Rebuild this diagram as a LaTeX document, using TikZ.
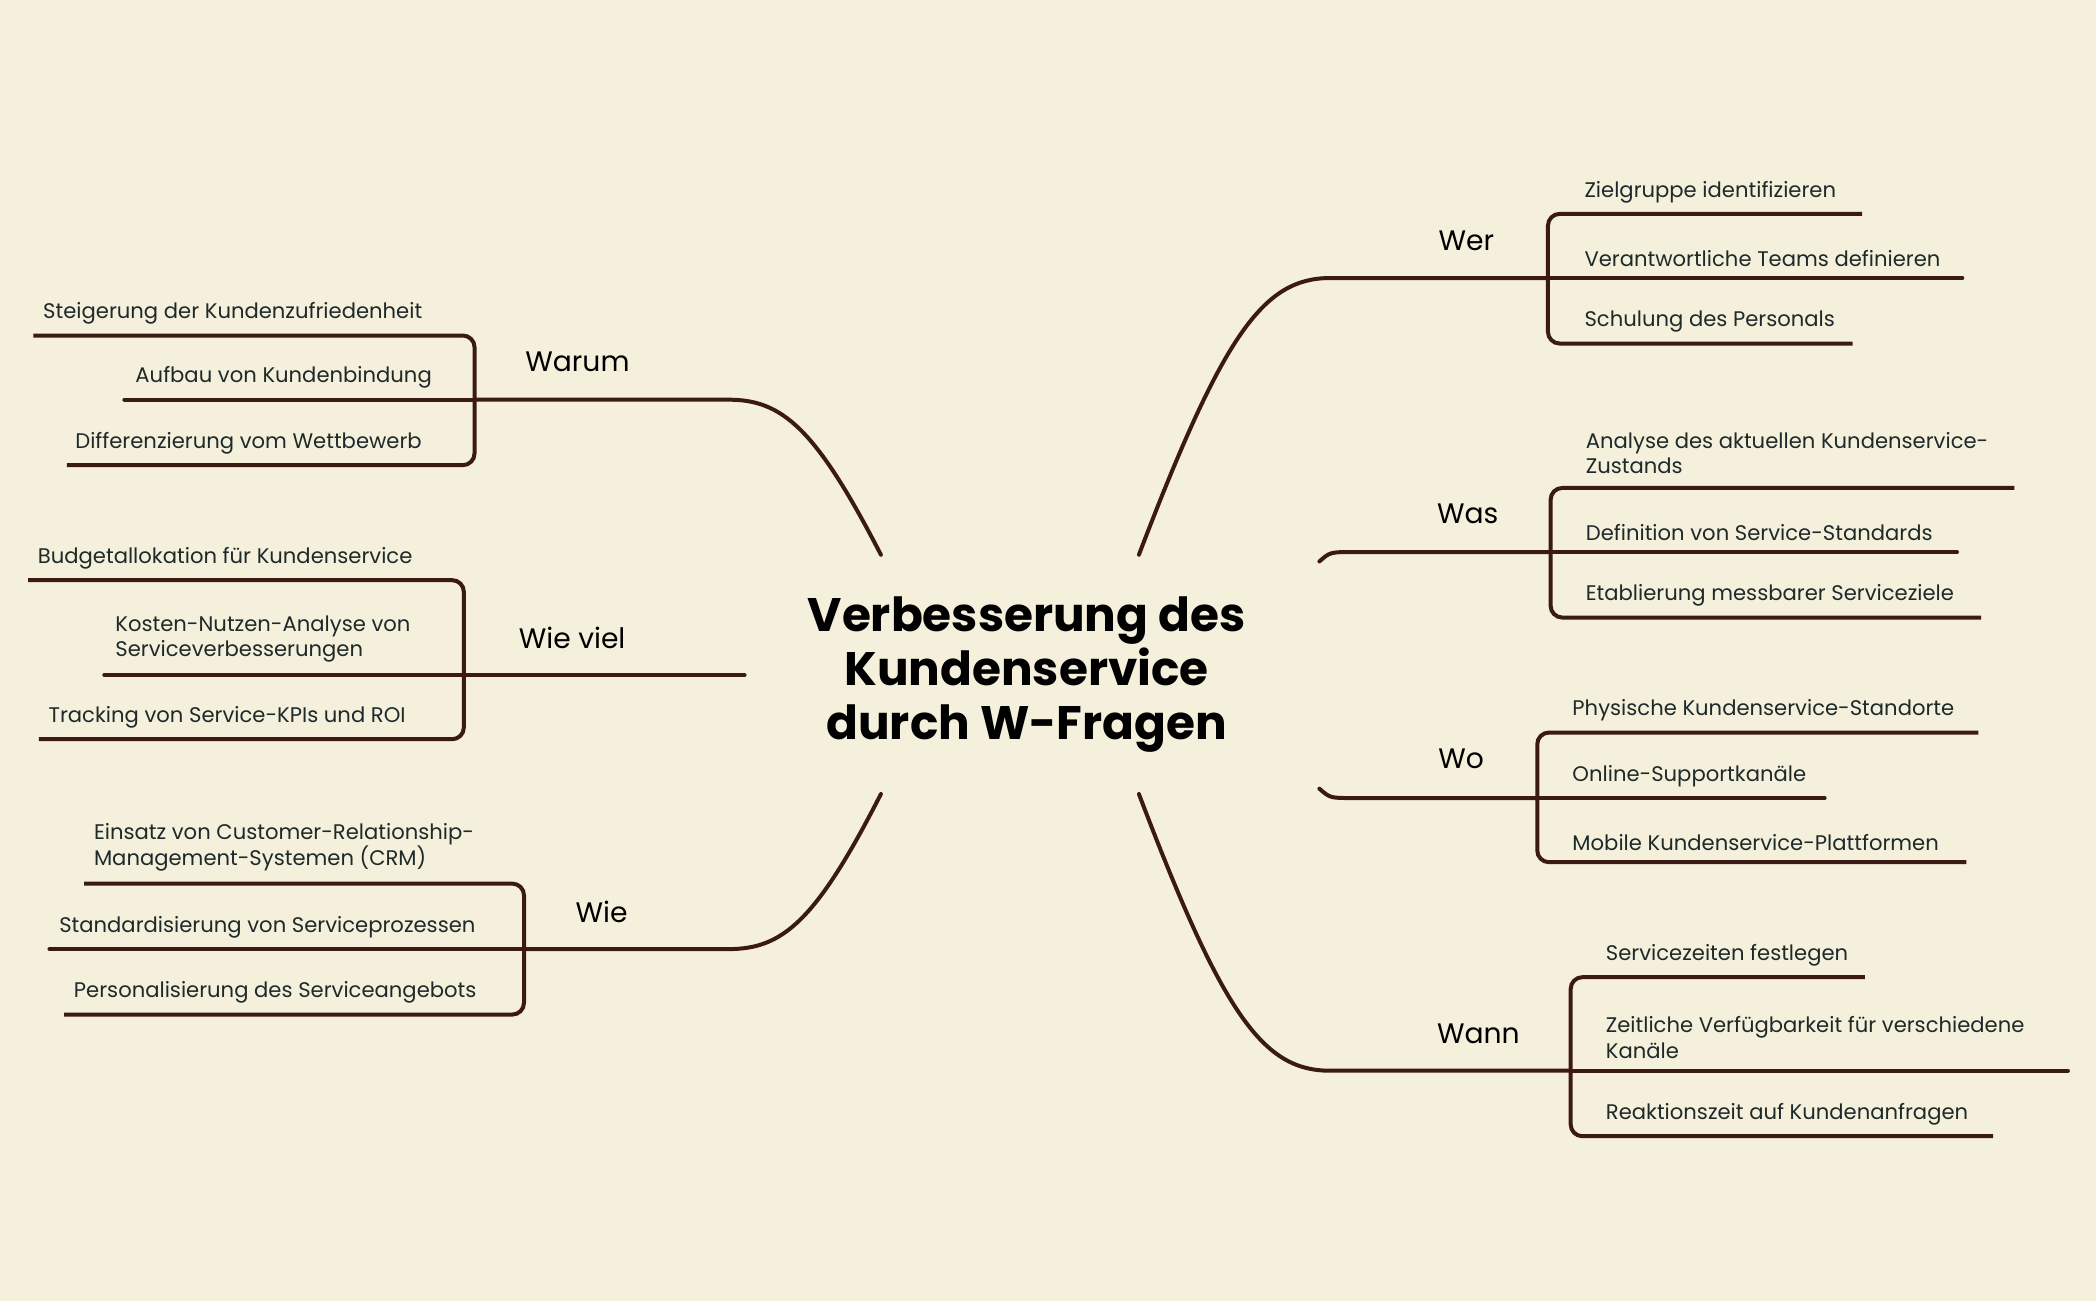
\documentclass[tikz,border=0pt]{standalone}
\usepackage{fontspec}
\setmainfont{Poppins}
\definecolor{bg}{HTML}{F5F0DC}
\definecolor{ln}{HTML}{3B1A14}
\definecolor{tx}{HTML}{1E2A2A}
\begin{document}
\begin{tikzpicture}[x=0.02cm,y=-0.02cm,
  conn/.style={draw=ln,line width=1.7pt,line cap=round},
  br/.style={draw=ln,line width=1.7pt,rounded corners=5pt},
  item/.style={anchor=south west,inner sep=0pt,text=tx,font=\fontsize{9}{11}\selectfont,align=left},
  head/.style={text=black,font=\fontsize{12}{14}\selectfont,inner sep=0pt},
  title/.style={text=black,font=\fontsize{20}{23}\selectfont\bfseries,align=center}]
\fill[bg] (0,0) rectangle (1568,973);
\useasboundingbox (0,0) rectangle (1568,973);
\node[title] (c) at (768,505) {Verbesserung des\\Kundenservice\\durch W-Fragen};
% ---------- Wer
\coordinate (wer0) at (852,415); \coordinate (wer1) at (995,208); \coordinate (werb) at (1158,208);
\draw[conn] (wer0) .. controls (915,250) and (945,208) .. (wer1) -- (werb);
\draw[br] (1393,160) -- (1158,160) -- (1158,257) -- (1386,257);
\draw[conn] (werb) -- (1468,208);
\node[head] (wer) at (1097,180) {Wer};
\node[item] (wer-a) at (1185,152) {Zielgruppe identifizieren};
\node[item] (wer-b) at (1185,200) {Verantwortliche Teams definieren};
\node[item] (wer-c) at (1185,249) {Schulung des Personals};
% ---------- Was
\coordinate (was0) at (987,420); \coordinate (wasb) at (1160,413);
\draw[conn] (was0) .. controls (995,413) .. (1012,413) -- (wasb);
\draw[br] (1507,365) -- (1160,365) -- (1160,462) -- (1482,462);
\draw[conn] (wasb) -- (1464,413);
\node[head] (was) at (1098,384) {Was};
\node[item] (was-a) at (1186,355) {Analyse des aktuellen Kundenservice-\\Zustands};
\node[item] (was-b) at (1186,405) {Definition von Service-Standards};
\node[item] (was-c) at (1186,454) {Etablierung messbarer Serviceziele};
% ---------- Wo
\coordinate (wo0) at (987,590); \coordinate (wob) at (1150,597);
\draw[conn] (wo0) .. controls (995,597) .. (1012,597) -- (wob);
\draw[br] (1480,548) -- (1150,548) -- (1150,645) -- (1471,645);
\draw[conn] (wob) -- (1365,597);
\node[head] (wo) at (1093,568) {Wo};
\node[item] (wo-a) at (1176,540) {Physische Kundenservice-Standorte};
\node[item] (wo-b) at (1176,589) {Online-Supportkanäle};
\node[item] (wo-c) at (1176,637) {Mobile Kundenservice-Plattformen};
% ---------- Wann
\coordinate (wa0) at (852,594); \coordinate (wa1) at (995,801); \coordinate (wab) at (1175,801);
\draw[conn] (wa0) .. controls (915,760) and (945,801) .. (wa1) -- (wab);
\draw[br] (1395,731) -- (1175,731) -- (1175,850) -- (1491,850);
\draw[conn] (wab) -- (1547,801);
\node[head] (wann) at (1106,773) {Wann};
\node[item] (wa-a) at (1201,723) {Servicezeiten festlegen};
\node[item] (wa-b) at (1201,792) {Zeitliche Verfügbarkeit für verschiedene\\Kanäle};
\node[item] (wa-c) at (1201,842) {Reaktionszeit auf Kundenanfragen};
% ---------- Warum
\coordinate (wr0) at (659,415); \coordinate (wr1) at (545,299); \coordinate (wrb) at (355,299);
\draw[conn] (wr0) .. controls (610,320) and (585,299) .. (wr1) -- (wrb);
\draw[br] (25,251) -- (355,251) -- (355,348) -- (50,348);
\draw[conn] (wrb) -- (93,299);
\node[head] (warum) at (432,271) {Warum};
\node[item] (wr-a) at (32,243) {Steigerung der Kundenzufriedenheit};
\node[item] (wr-b) at (101,291) {Aufbau von Kundenbindung};
\node[item] (wr-c) at (56,340) {Differenzierung vom Wettbewerb};
% ---------- Wie viel
\coordinate (wv0) at (557,505); \coordinate (wvb) at (347,505);
\draw[conn] (wv0) -- (wvb);
\draw[br] (21,434) -- (347,434) -- (347,553) -- (29,553);
\draw[conn] (wvb) -- (78,505);
\node[head] (wieviel) at (428,477) {Wie viel};
\node[item] (wv-a) at (28,426) {Budgetallokation für Kundenservice};
\node[item] (wv-b) at (86,496) {Kosten-Nutzen-Analyse von\\Serviceverbesserungen};
\node[item] (wv-c) at (36,545) {Tracking von Service-KPIs und ROI};
% ---------- Wie
\coordinate (wi0) at (659,594); \coordinate (wi1) at (545,710); \coordinate (wib) at (392,710);
\draw[conn] (wi0) .. controls (610,690) and (585,710) .. (wi1) -- (wib);
\draw[br] (63,661) -- (392,661) -- (392,759) -- (48,759);
\draw[conn] (wib) -- (37,710);
\node[head] (wie) at (450,682) {Wie};
\node[item] (wi-a) at (70,652) {Einsatz von Customer-Relationship-\\Management-Systemen (CRM)};
\node[item] (wi-b) at (44,702) {Standardisierung von Serviceprozessen};
\node[item] (wi-c) at (55,751) {Personalisierung des Serviceangebots};
\end{tikzpicture}
\end{document}
